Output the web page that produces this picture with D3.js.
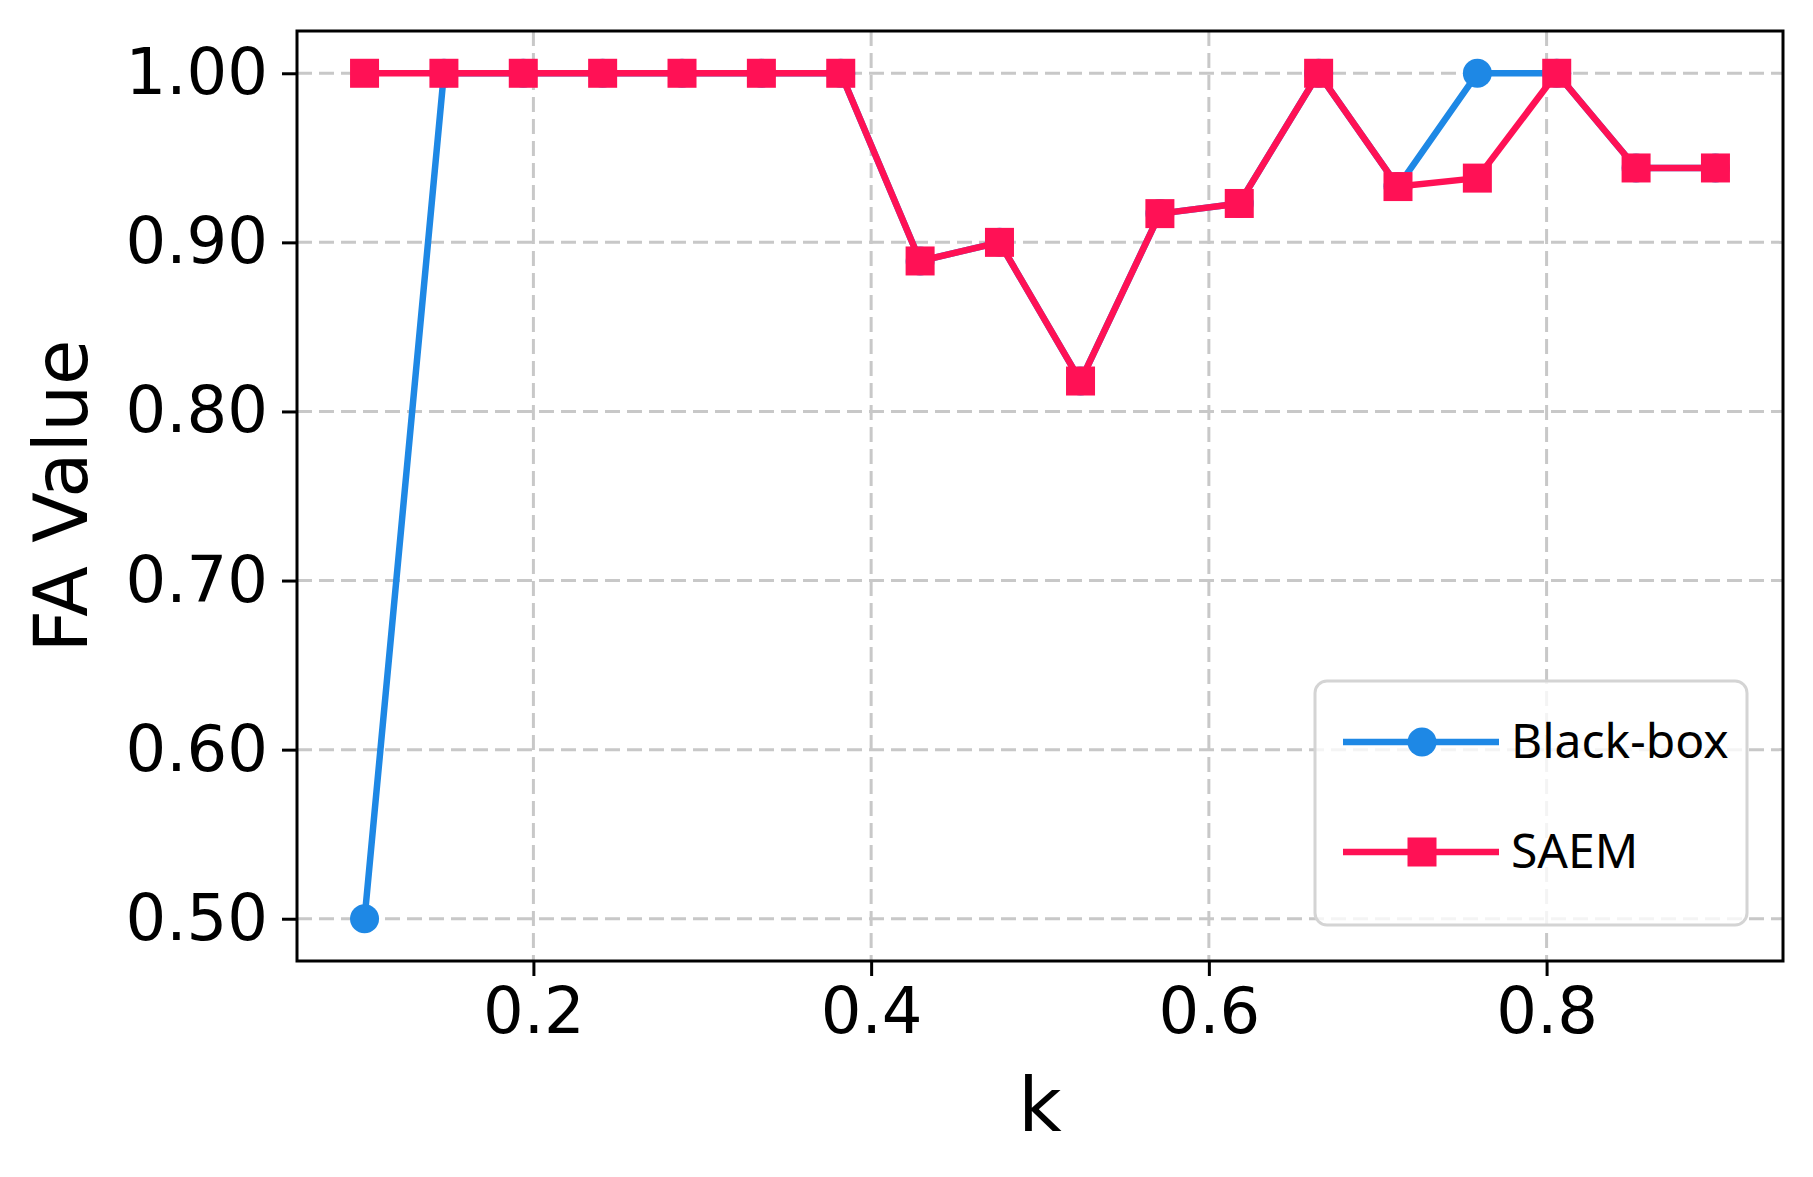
<!DOCTYPE html>
<html>
<head>
<meta charset="utf-8">
<script src="https://cdn.jsdelivr.net/npm/d3@7"></script>
<style>
  body { margin: 0; background: #fff; }
  svg { display: block; }
</style>
</head>
<body>
<svg id="chart"></svg>
<script>
const w = 1813;
const h = 1177;
const margin = {top: 31, right: 30, bottom: 216, left: 297};

// data
const kValues = [0.100, 0.147, 0.194, 0.241, 0.288, 0.335, 0.382, 0.429, 0.476,
                 0.524, 0.571, 0.618, 0.665, 0.712, 0.759, 0.806, 0.853, 0.900];
const blackBox = [0.500, 1.000, 1.000, 1.000, 1.000, 1.000, 1.000, 0.889, 0.900,
                  0.818, 0.917, 0.923, 1.000, 0.933, 1.000, 1.000, 0.944, 0.944];
const saem = [1.000, 1.000, 1.000, 1.000, 1.000, 1.000, 1.000, 0.889, 0.900,
              0.818, 0.917, 0.923, 1.000, 0.933, 0.938, 1.000, 0.944, 0.944];
const seriesNames = ["Black-box", "SAEM"];
const xTicks = [0.2, 0.4, 0.6, 0.8];
const yTicks = [0.5, 0.6, 0.7, 0.8, 0.9, 1.0];

const blue = "#1e88e5";
const pink = "#ff1155";

var svg = d3.select("#chart")
  .attr("width", w)
  .attr("height", h);

const x = d3.scaleLinear()
  .domain([0.06, 0.94])
  .range([margin.left, w - margin.right]);

const y = d3.scaleLinear()
  .domain([0.475, 1.025])
  .range([h - margin.bottom, margin.top]);

// grid
const grid = svg.append("g")
  .attr("stroke", "#c8c8c8")
  .attr("stroke-width", 3)
  .attr("stroke-dasharray", "15,7");

grid.selectAll("line.gx")
  .data(xTicks)
  .join("line")
  .attr("x1", d => x(d)).attr("x2", d => x(d))
  .attr("y1", margin.top).attr("y2", h - margin.bottom);

grid.selectAll("line.gy")
  .data(yTicks)
  .join("line")
  .attr("class", "gy")
  .attr("y1", d => y(d)).attr("y2", d => y(d))
  .attr("x1", margin.left).attr("x2", w - margin.right);

// axes
const xAxis = d3.axisBottom(x)
  .tickValues(xTicks)
  .tickFormat(d3.format(".1f"))
  .tickSize(15)
  .tickPadding(12);

const yAxis = d3.axisLeft(y)
  .tickValues(yTicks)
  .tickFormat(d3.format(".2f"))
  .tickSize(15)
  .tickPadding(14);

const gx = svg.append("g")
  .attr("transform", `translate(0, ${h - margin.bottom})`)
  .call(xAxis);

const gy = svg.append("g")
  .attr("transform", `translate(${margin.left}, 0)`)
  .call(yAxis);

[gx, gy].forEach(g => {
  g.select(".domain").remove();
  g.selectAll(".tick line").attr("stroke", "#000").attr("stroke-width", 3);
  g.selectAll("text")
    .attr("fill", "#000")
    .attr("font-family", "DejaVu Sans")
    .attr("font-size", 64);
});
gx.selectAll("text").attr("dy", "0.71em");

// lines
const line = d3.line()
  .x((d, i) => x(kValues[i]))
  .y(d => y(d));

svg.append("path")
  .datum(blackBox)
  .attr("fill", "none")
  .attr("stroke", blue)
  .attr("stroke-width", 6.5)
  .attr("stroke-linejoin", "round")
  .attr("d", line);

svg.append("g")
  .selectAll("circle")
  .data(blackBox)
  .join("circle")
  .attr("cx", (d, i) => x(kValues[i]))
  .attr("cy", d => y(d))
  .attr("r", 14.5)
  .attr("fill", blue);

svg.append("path")
  .datum(saem)
  .attr("fill", "none")
  .attr("stroke", pink)
  .attr("stroke-width", 6.5)
  .attr("stroke-linejoin", "round")
  .attr("d", line);

svg.append("g")
  .selectAll("rect")
  .data(saem)
  .join("rect")
  .attr("x", (d, i) => x(kValues[i]) - 14.5)
  .attr("y", d => y(d) - 14.5)
  .attr("width", 29)
  .attr("height", 29)
  .attr("fill", pink);

// frame
svg.append("rect")
  .attr("x", margin.left)
  .attr("y", margin.top)
  .attr("width", w - margin.left - margin.right)
  .attr("height", h - margin.top - margin.bottom)
  .attr("fill", "none")
  .attr("stroke", "#000")
  .attr("stroke-width", 3);

// axis labels
svg.append("text")
  .attr("x", (margin.left + w - margin.right) / 2)
  .attr("y", 1131)
  .attr("text-anchor", "middle")
  .attr("font-family", "DejaVu Sans")
  .attr("font-size", 75)
  .text("k");

svg.append("text")
  .attr("transform", `translate(87, ${(margin.top + h - margin.bottom) / 2}) rotate(-90)`)
  .attr("text-anchor", "middle")
  .attr("font-family", "DejaVu Sans")
  .attr("font-size", 74)
  .text("FA Value");

// legend
const legend = svg.append("g").attr("transform", "translate(1315, 681)");

legend.append("rect")
  .attr("width", 432)
  .attr("height", 244)
  .attr("rx", 12)
  .attr("fill", "#fff")
  .attr("fill-opacity", 0.8)
  .attr("stroke", "#d4d4d4")
  .attr("stroke-width", 3);

const items = legend.selectAll("g.item")
  .data(seriesNames)
  .join("g")
  .attr("transform", (d, i) => `translate(0, ${61 + i * 110})`);

items.append("line")
  .attr("x1", 28).attr("x2", 184)
  .attr("stroke", (d, i) => i === 0 ? blue : pink)
  .attr("stroke-width", 6.5);

items.filter((d, i) => i === 0).append("circle")
  .attr("cx", 107).attr("r", 14.5).attr("fill", blue);

items.filter((d, i) => i === 1).append("rect")
  .attr("x", 92.5).attr("y", -14.5).attr("width", 29).attr("height", 29).attr("fill", pink);

items.append("text")
  .attr("x", 196)
  .attr("y", 16)
  .attr("font-family", "Noto Sans")
  .attr("font-size", 48)
  .attr("fill", "#000")
  .text(d => d);
</script>
</body>
</html>
